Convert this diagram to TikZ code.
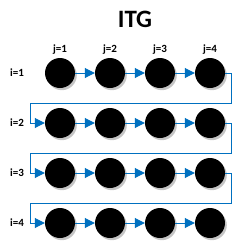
\documentclass[tikz,border=0pt]{standalone}
\usepackage{fontspec}
\setmainfont{Carlito}
\usetikzlibrary{arrows.meta,calc,positioning,shadows}
\definecolor{linkblue}{RGB}{0,112,192}

\begin{document}
\begin{tikzpicture}[x=1pt,y=-1pt,>={Triangle[length=10pt,width=10pt]},
  dot/.style={circle,fill=black,minimum size=30pt,inner sep=0pt,
    drop shadow={shadow xshift=1.8pt,shadow yshift=-2.2pt,fill=gray!50,opacity=0.9}},
  lab/.style={font=\bfseries\fontsize{11}{11}\selectfont},
  link/.style={->,draw=linkblue,line width=0.9pt}]
\useasboundingbox (0,0) rectangle (245,250);
\node[font=\bfseries\fontsize{25}{25}\selectfont] (title) at (135,19) {ITG};
\foreach \j in {1,...,4}
  \node[lab] (col\j) at ({10+50*\j},50) {j=\j};
\foreach \i in {1,...,4}{
  \node[lab] (row\i) at (17,{23+50*\i}) {i=\i};
  \foreach \j in {1,...,4}
    \node[dot] (n\i\j) at ({10+50*\j},{23+50*\i}) {};
}
% arrows along each row
\foreach \i in {1,...,4}
  \foreach \j in {1,2,3}{
    \pgfmathtruncatemacro{\k}{\j+1}
    \draw[link] (n\i\j.east) -- (n\i\k.west);
  }
% snake back to the next row
\foreach \i in {1,2,3}{
  \pgfmathtruncatemacro{\k}{\i+1}
  \coordinate (r\i) at ($(n\i4.east)+(6,0)$);
  \coordinate (d\i) at ($(r\i)+(0,30)$);
  \coordinate (l\i) at ($(row\i)+(13,30)$);
  \draw[link] (n\i4.east) -- (r\i) -- (d\i) -- (l\i) |- (n\k1.west);
}
\end{tikzpicture}
\end{document}
